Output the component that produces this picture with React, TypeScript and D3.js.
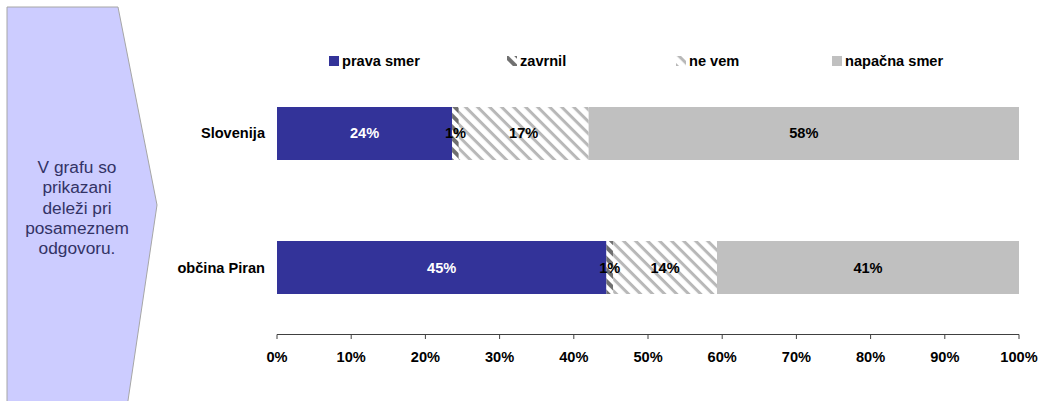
import React from "react";
import * as d3 from "d3";

const categories = ["Slovenija", "občina Piran"];
const seriesNames = ["prava smer", "zavrnil", "ne vem", "napačna smer"];
const pravaSmer = [23.6, 44.4];
const zavrnil = [0.9, 0.9];
const neVem = [17.5, 14.0];
const napacnaSmer = [58.0, 40.7];
const labelsPrava = ["24%", "45%"];
const labelsZavrnil = ["1%", "1%"];
const labelsNeVem = ["17%", "14%"];
const labelsNapacna = ["58%", "41%"];
const xTicks = [0, 10, 20, 30, 40, 50, 60, 70, 80, 90, 100];
const noteLines = ["V grafu so", "prikazani", "deleži pri", "posameznem", "odgovoru."];

const W = 1041;
const H = 401;
const FONT = "Arial, 'Liberation Sans', sans-serif";
const FS = 14.6;

export default function App() {
  const x = d3.scaleLinear().domain([0, 100]).range([277, 1019]);
  const y = d3.scaleBand().domain(categories).range([107, 294]).paddingInner(0.6045).paddingOuter(0);

  const rows = categories.map((c, i) => ({
    cat: c,
    vals: [pravaSmer[i], zavrnil[i], neVem[i], napacnaSmer[i]],
    labels: [labelsPrava[i], labelsZavrnil[i], labelsNeVem[i], labelsNapacna[i]],
  }));
  const stack = d3.stack<any>().keys([0, 1, 2, 3] as any).value((d: any, k: any) => d.vals[k]);
  const stacked = stack(rows as any);

  const fills = ["#333399", "url(#patZav)", "url(#patNe)", "#c0c0c0"];
  const labelColors = ["#ffffff", "#000000", "#000000", "#000000"];
  const legendX = [329, 507, 676, 832];

  const axisY = 334.5;

  return (
    <svg width={W} height={H} style={{ position: "absolute", left: 0, top: 0 }} fontFamily={FONT}>
      <defs>
        <pattern id="patNe" patternUnits="userSpaceOnUse" width="8.5" height="8.5" patternTransform="rotate(45)">
          <rect width="8.5" height="8.5" fill="#ffffff" />
          <rect x="0" y="0" width="8.5" height="3" fill="#b8b8b8" />
        </pattern>
        <pattern id="patZav" patternUnits="userSpaceOnUse" width="8" height="8" patternTransform="rotate(45)">
          <rect width="8" height="8" fill="#ffffff" />
          <rect x="0" y="0" width="8" height="4" fill="#707070" />
        </pattern>
      </defs>
      <rect width={W} height={H} fill="#ffffff" />
      <polygon points="7,7 118,7 157,205 118,468 7,468" fill="#ccccff" stroke="#a6a6a6" strokeWidth={1} />
      <text fontSize={17.3} fill="#333366" textAnchor="middle">
        {noteLines.map((l, i) => (
          <tspan key={i} x={77} y={173 + i * 20.3}>{l}</tspan>
        ))}
      </text>

      {seriesNames.map((s, i) => (
        <g key={s}>
          <rect x={legendX[i]} y={56} width={10} height={10} fill={fills[i]} />
          <text x={legendX[i] + 13} y={66} fontSize={FS} fontWeight="bold" fill="#000">{s}</text>
        </g>
      ))}

      {stacked.map((layer: any, k: number) =>
        layer.map((seg: any, i: number) => (
          <rect key={`${k}-${i}`} x={x(seg[0])} y={y(categories[i])!} width={x(seg[1]) - x(seg[0])} height={y.bandwidth()} fill={fills[k]} />
        ))
      )}
      {stacked.map((layer: any, k: number) =>
        layer.map((seg: any, i: number) => (
          <text key={`t${k}-${i}`} x={(x(seg[0]) + x(seg[1])) / 2} y={y(categories[i])! + y.bandwidth() / 2 + 5}
            textAnchor="middle" fontSize={FS} fontWeight="bold" fill={labelColors[k]}>
            {rows[i].labels[k]}
          </text>
        ))
      )}

      {categories.map((c) => (
        <text key={c} x={265} y={y(c)! + y.bandwidth() / 2 + 5} textAnchor="end" fontSize={FS} fontWeight="bold" fill="#000">{c}</text>
      ))}

      <line x1={x(0)} x2={x(100)} y1={axisY} y2={axisY} stroke="#404040" strokeWidth={1} />
      {xTicks.map((t) => (
        <g key={t}>
          <line x1={x(t)} x2={x(t)} y1={axisY} y2={axisY + 4.5} stroke="#404040" />
          <text x={x(t)} y={axisY + 27.5} textAnchor="middle" fontSize={FS} fontWeight="bold" fill="#000">{t}%</text>
        </g>
      ))}
    </svg>
  );
}
